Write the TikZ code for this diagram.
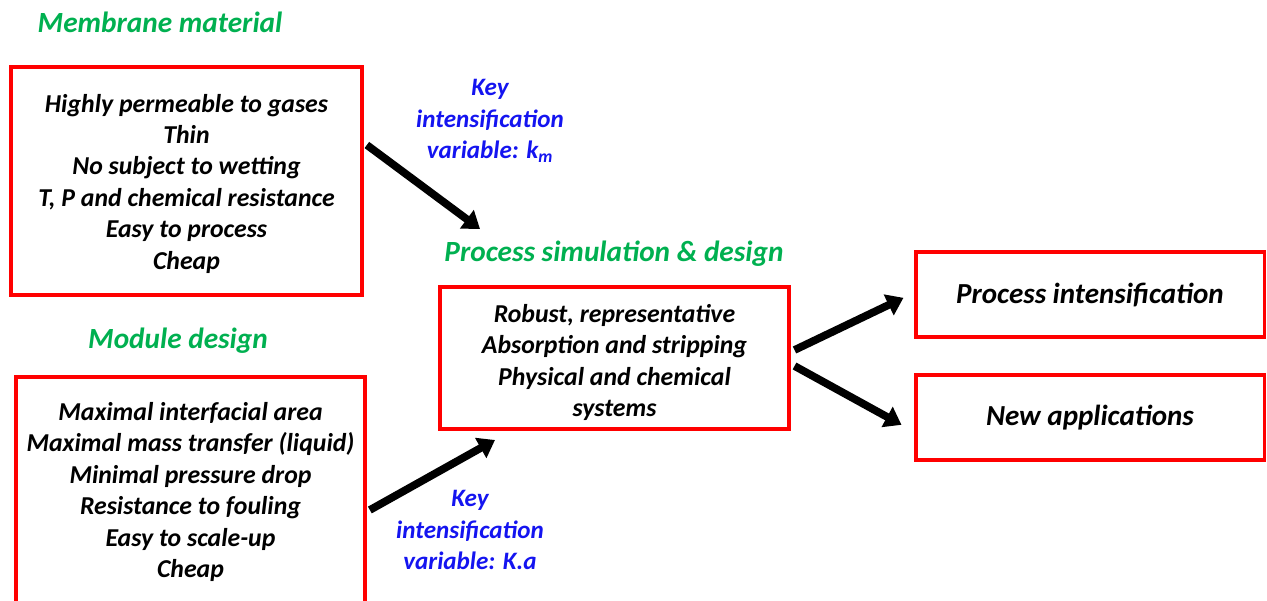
\documentclass[tikz,border=0pt]{standalone}
\usepackage{fontspec}
\setmainfont{Carlito}
\usetikzlibrary{arrows.meta}
\definecolor{boxred}{RGB}{255,0,0}
\definecolor{ttlgreen}{RGB}{0,176,80}
\definecolor{keyblue}{RGB}{20,20,240}
\begin{document}
\begin{tikzpicture}[x=0.03cm, y=-0.03cm,
    box/.style={draw=boxred, line width=2.6pt, align=center, inner sep=0pt,
      font=\fontsize{22}{26.8}\selectfont\bfseries\itshape},
    bigbox/.style={box, minimum width=10.44cm, minimum height=2.55cm,
      font=\fontsize{24.8}{26.8}\selectfont\bfseries\itshape},
    ttl/.style={text=ttlgreen, font=\fontsize{25}{26.8}\selectfont\bfseries\itshape},
    keylbl/.style={text=keyblue, align=center, font=\fontsize{21.4}{26.8}\selectfont\bfseries\itshape},
    flow/.style={line width=6.6pt, -{Triangle[length=14pt,width=19pt]}}]
    \clip (0,0) rectangle (1267,601);

    % Titulos
    \node[ttl] (ttlmem) at (160,22) {Membrane material};
    \node[ttl] (ttlmod) at (178,341) {Module design};
    \node[ttl] (ttlsim) at (614,254) {Process simulation \& design};

    % Caixas
    \node[box, minimum width=10.53cm, minimum height=6.84cm] (mem) at (186.5,181)
      {\raisebox{-0.28cm}[0pt][0pt]{\begin{tabular}{@{}c@{}}Highly permeable to gases\\Thin\\No subject to wetting\\T, P and chemical resistance\\Easy to process\\Cheap\end{tabular}}};
    \node[box, minimum width=10.47cm, minimum height=6.9cm] (mod) at (190.5,492)
      {Maximal interfacial area\\Maximal mass transfer (liquid)\\Minimal pressure drop\\Resistance to fouling\\Easy to scale-up\\Cheap};
    \node[box, minimum width=10.47cm, minimum height=4.26cm] (sim) at (614.5,358)
      {\raisebox{-0.34cm}[0pt][0pt]{\begin{tabular}{@{}c@{}}Robust, representative\\Absorption and stripping\\Physical and chemical\\systems\end{tabular}}};
    \node[bigbox] (pint) at (1090,294.5) {Process intensification};
    \node[bigbox] (napp) at (1090,417.5) {New applications};

    % Rotulos das setas
    \node[keylbl] (key1) at (490,121) {Key\\intensification\\variable: k\textsubscript{m}};
    \node[keylbl] (key2) at (470,530) {Key\\intensification\\variable: K.a};

    % Setas
    \coordinate (in1) at (480,229);
    \coordinate (in2) at (495,440);
    \draw[flow] ([xshift=0.1cm,yshift=1.08cm]mem.east) -- (in1);
    \draw[flow] ([xshift=0.1cm,yshift=-0.54cm]mod.east) -- (in2);
    \draw[flow] ([xshift=0.12cm,yshift=0.24cm]sim.east) -- ([xshift=-0.33cm,yshift=-0.1cm]pint.west);
    \draw[flow] ([xshift=0.12cm,yshift=-0.24cm]sim.east) -- ([xshift=-0.39cm,yshift=-0.22cm]napp.west);
  \end{tikzpicture}
\end{document}
